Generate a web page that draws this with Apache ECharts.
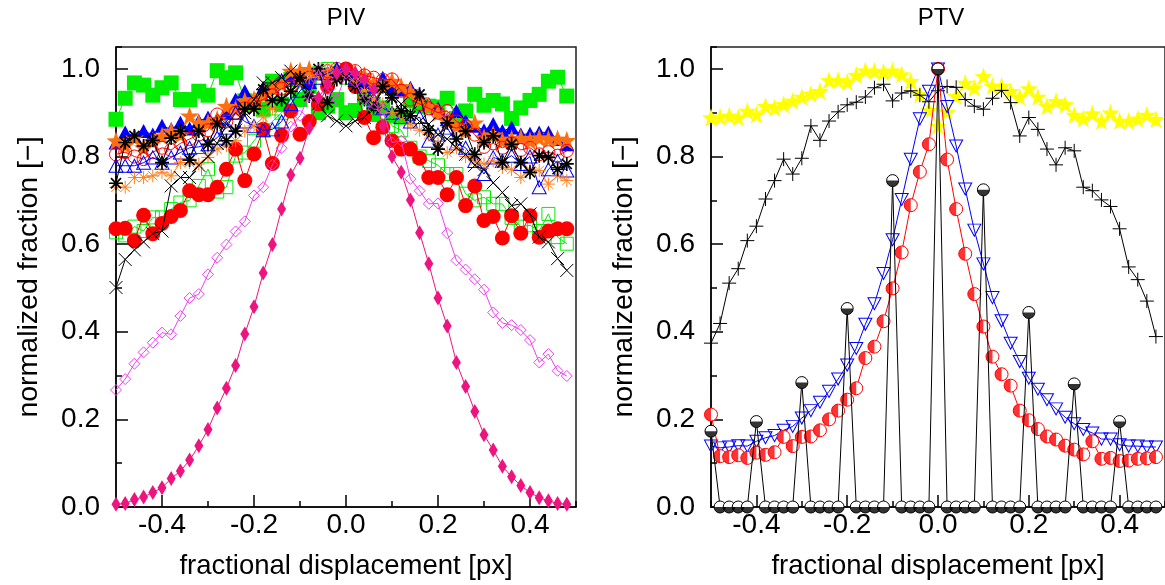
<!DOCTYPE html>
<html><head><meta charset="utf-8">
<script src="https://cdn.jsdelivr.net/npm/echarts@6/dist/echarts.min.js"></script>
<style>html,body{margin:0;padding:0;background:#fff}#c{width:1165px;height:585px}</style>
</head><body><div id="c"></div>
<script>
// ---------- data ----------
const xPos = [-0.50,-0.48,-0.46,-0.44,-0.42,-0.40,-0.38,-0.36,-0.34,-0.32,
  -0.30,-0.28,-0.26,-0.24,-0.22,-0.20,-0.18,-0.16,-0.14,-0.12,
  -0.10,-0.08,-0.06,-0.04,-0.02,0.00,0.02,0.04,0.06,0.08,
  0.10,0.12,0.14,0.16,0.18,0.20,0.22,0.24,0.26,0.28,
  0.30,0.32,0.34,0.36,0.38,0.40,0.42,0.44,0.46,0.48];
const xTickValues = [-0.4,-0.2,0,0.2,0.4];
const xTickLabels = ['-0.4','-0.2','0.0','0.2','0.4'];
const yTickValues = [0,0.2,0.4,0.6,0.8,1.0];
const yTickLabels = ['0.0','0.2','0.4','0.6','0.8','1.0'];
const panelTitles = ['PIV','PTV'];
const xAxisTitle = 'fractional displacement [px]';
const yAxisTitle = 'normalized fraction [\u2212]';

// PIV panel
const pivGreenFilled = [0.885,0.933,0.968,0.963,0.94,0.957,0.968,0.93,0.93,0.949,
  0.94,0.996,0.98,0.991,0.927,0.919,0.908,0.972,0.919,0.976,
  0.93,0.96,0.9,0.915,0.93,0.9,0.905,0.935,0.896,0.911,
  0.893,0.89,0.927,0.915,0.915,0.913,0.933,0.887,0.904,0.942,
  0.917,0.928,0.92,0.887,0.911,0.928,0.942,0.972,0.981,0.938];
const pivGreenOpen = [0.627,0.62,0.64,0.63,0.661,0.661,0.68,0.695,0.7,0.733,
  0.771,0.72,0.73,0.802,0.809,0.836,0.86,0.88,0.9,0.93,
  0.96,0.98,0.99,1.0,0.99,0.98,0.97,0.95,0.92,0.9,
  0.87,0.86,0.82,0.8,0.79,0.78,0.76,0.76,0.715,0.7,
  0.707,0.692,0.692,0.66,0.64,0.643,0.63,0.669,0.616,0.601];
const pivRedFilled = [0.635,0.636,0.608,0.666,0.624,0.647,0.663,0.677,0.722,0.713,
  0.713,0.73,0.771,0.817,0.745,0.806,0.862,0.784,0.848,0.904,
  0.851,0.88,0.92,0.96,0.99,1.0,0.96,0.889,0.843,0.867,
  0.836,0.817,0.817,0.796,0.752,0.752,0.713,0.752,0.688,0.733,
  0.654,0.663,0.614,0.665,0.625,0.665,0.616,0.63,0.635,0.635];
const pivBlueFilled = [0.832,0.855,0.847,0.858,0.85,0.87,0.862,0.877,0.864,0.881,
  0.889,0.885,0.9,0.93,0.949,0.93,0.957,0.96,0.975,0.98,
  0.985,0.97,0.99,0.99,1.0,1.0,0.99,0.97,0.96,0.98,
  0.955,0.953,0.957,0.94,0.92,0.91,0.885,0.904,0.881,0.87,
  0.86,0.874,0.858,0.866,0.85,0.852,0.855,0.855,0.84,0.828];
const pivOrangeStar = [0.836,0.826,0.843,0.82,0.835,0.847,0.858,0.85,0.893,0.877,
  0.877,0.885,0.915,0.908,0.927,0.93,0.94,0.957,0.965,0.995,
  0.995,0.999,0.99,0.985,0.99,0.99,0.99,0.985,0.968,0.96,
  0.972,0.96,0.949,0.93,0.915,0.9,0.881,0.87,0.86,0.877,
  0.843,0.85,0.836,0.84,0.842,0.836,0.843,0.84,0.84,0.837];
const pivRedOpen = [0.805,0.81,0.8,0.794,0.81,0.82,0.815,0.83,0.84,0.85,
  0.86,0.896,0.88,0.9,0.91,0.92,0.93,0.94,0.955,0.96,
  0.975,0.98,0.99,0.995,1.0,1.0,0.995,0.985,0.98,0.975,
  0.976,0.95,0.93,0.92,0.91,0.9,0.904,0.88,0.87,0.85,
  0.822,0.83,0.82,0.83,0.815,0.82,0.805,0.81,0.802,0.813];
const pivBlueOpen = [0.779,0.779,0.779,0.786,0.798,0.786,0.798,0.809,0.82,0.822,
  0.828,0.843,0.866,0.9,0.88,0.87,0.86,0.862,0.88,0.92,
  0.95,0.97,0.98,0.99,1.0,0.99,0.98,0.96,0.93,0.91,
  0.9,0.89,0.88,0.89,0.836,0.85,0.866,0.83,0.82,0.79,
  0.76,0.798,0.79,0.802,0.783,0.8,0.73,0.771,0.79,0.768];
const pivOrangeAst = [0.73,0.73,0.752,0.752,0.756,0.764,0.756,0.786,0.786,0.783,
  0.798,0.817,0.825,0.836,0.858,0.87,0.89,0.91,0.93,0.95,
  0.97,0.98,0.99,1.0,0.99,0.98,0.97,0.95,0.93,0.92,
  0.9,0.89,0.874,0.86,0.85,0.83,0.809,0.82,0.8,0.79,
  0.783,0.79,0.775,0.77,0.752,0.77,0.768,0.737,0.756,0.745];
const pivBlackAst = [0.739,0.832,0.847,0.824,0.837,0.786,0.842,0.858,0.792,0.858,
  0.828,0.875,0.836,0.858,0.908,0.908,0.953,0.928,0.93,0.949,
  0.98,0.938,1.0,0.923,0.976,0.98,0.96,0.93,0.91,0.96,
  0.934,0.904,0.893,0.942,0.86,0.817,0.877,0.84,0.858,0.805,
  0.832,0.847,0.786,0.828,0.786,0.764,0.802,0.798,0.771,0.783];
const pivBlackX = [0.501,0.565,0.587,0.605,0.624,0.63,0.733,0.752,0.752,0.78,
  0.8,0.83,0.874,0.86,0.9,0.93,0.968,0.968,0.98,0.995,
  0.968,0.95,0.92,0.893,0.881,0.87,0.881,0.889,0.92,0.95,
  0.94,0.92,0.9,0.88,0.874,0.85,0.84,0.82,0.805,0.78,
  0.77,0.74,0.718,0.688,0.692,0.669,0.616,0.605,0.567,0.54];
const pivMagenta = [0.267,0.292,0.327,0.353,0.375,0.398,0.394,0.436,0.477,0.486,
  0.531,0.569,0.599,0.629,0.652,0.711,0.73,0.781,0.819,0.868,
  0.893,0.938,0.999,0.953,0.93,0.99,0.97,0.93,0.908,0.908,
  0.832,0.836,0.749,0.722,0.692,0.693,0.625,0.563,0.542,0.52,
  0.496,0.444,0.42,0.415,0.404,0.381,0.33,0.349,0.311,0.299];
const pivPink = [0.006,0.008,0.017,0.023,0.033,0.044,0.065,0.082,0.107,0.14,
  0.177,0.226,0.271,0.323,0.395,0.457,0.534,0.599,0.68,0.758,
  0.796,0.865,0.934,0.965,0.99,1.0,0.99,0.975,0.953,0.87,
  0.8,0.764,0.701,0.626,0.555,0.477,0.413,0.33,0.275,0.218,
  0.165,0.13,0.093,0.069,0.049,0.033,0.021,0.014,0.008,0.006];

// PTV panel
const ptvYellow = [0.889,0.89,0.893,0.889,0.904,0.896,0.915,0.911,0.919,0.927,
  0.936,0.943,0.949,0.974,0.974,0.97,0.986,0.996,0.995,0.993,
  0.996,0.987,0.972,0.942,0.906,0.87,0.902,0.938,0.968,0.957,
  0.983,0.961,0.961,0.949,0.936,0.955,0.936,0.915,0.926,0.919,
  0.895,0.887,0.898,0.881,0.9,0.881,0.881,0.886,0.895,0.885];
const ptvPlus = [0.374,0.419,0.511,0.544,0.608,0.641,0.703,0.745,0.794,0.76,
  0.796,0.87,0.837,0.881,0.902,0.918,0.924,0.936,0.957,0.965,
  0.927,0.945,0.95,0.94,0.925,0.95,0.96,0.958,0.93,0.915,
  0.908,0.933,0.951,0.923,0.847,0.889,0.862,0.817,0.781,0.82,
  0.813,0.73,0.722,0.701,0.686,0.635,0.548,0.519,0.47,0.389];
const ptvBlueTri = [0.139,0.135,0.137,0.14,0.139,0.15,0.158,0.163,0.175,0.184,
  0.203,0.22,0.239,0.264,0.292,0.324,0.362,0.417,0.464,0.533,
  0.61,0.702,0.794,0.886,0.949,1.0,0.914,0.824,0.726,0.632,
  0.555,0.478,0.425,0.374,0.332,0.294,0.269,0.245,0.224,0.205,
  0.19,0.177,0.169,0.155,0.155,0.142,0.139,0.139,0.137,0.137];
const ptvRedHalf = [0.211,0.116,0.114,0.118,0.112,0.124,0.119,0.125,0.16,0.139,
  0.16,0.161,0.175,0.2,0.22,0.245,0.271,0.34,0.366,0.424,
  0.499,0.581,0.689,0.765,0.828,1.0,0.793,0.68,0.578,0.486,
  0.412,0.343,0.303,0.277,0.22,0.198,0.178,0.161,0.154,0.14,
  0.131,0.12,0.15,0.11,0.112,0.105,0.106,0.11,0.111,0.114];
const ptvBlackHalf = [0.173,0,0,0,0,0.195,0,0,0,0,
  0.284,0,0,0,0,0.453,0,0,0,0,
  0.745,0,0,0,0,1.0,0,0,0,0,
  0.724,0,0,0,0,0.444,0,0,0,0,
  0.281,0,0,0,0,0.195,0,0,0,0];

// ---------- symbols ----------
function starPath() {
  let s = 'path://';
  for (let i = 0; i < 10; i++) {
    const r = i % 2 === 0 ? 1 : 0.4;
    const a = -Math.PI / 2 + i * Math.PI / 5;
    s += (i === 0 ? 'M' : 'L') + (r * Math.cos(a)).toFixed(4) + ',' + (r * Math.sin(a)).toFixed(4) + ' ';
  }
  return s + 'Z';
}
const SYM = {
  star: starPath(),
  plus: 'path://M-1,0 L1,0 M0,-1 L0,1',
  cross: 'path://M-1,-1 L1,1 M-1,1 L1,-1',
  aster: 'path://M-1,0 L1,0 M0,-1 L0,1 M-0.72,-0.72 L0.72,0.72 M-0.72,0.72 L0.72,-0.72',
  square: 'path://M-1,-1 L1,-1 L1,1 L-1,1 Z',
  circle: 'path://M1,0 A1,1 0 1 1 -1,0 A1,1 0 1 1 1,0 Z',
  tri: 'path://M0,-1 L1,1 L-1,1 Z',
  triDown: 'path://M-1,-1 L1,-1 L0,1 Z',
  diamond: 'path://M0,-1 L1,0 L0,1 L-1,0 Z',
  halfBottom: 'path://M-1,0 A1,1 0 0 0 1,0 Z',
  halfLeft: 'path://M0,-1 A1,1 0 0 0 0,1 Z'
};

const FONT = 'Liberation Sans, Arial, Helvetica, sans-serif';
const FS_XNAME = 27.5;
const FS_YNAME = 28.5;
const FS_TICK = 28;

function pts(vals) { return xPos.map((x, i) => [x, vals[i]]); }

let zc = 3;
function line(g, vals, color, symbol, size, filled, lw, bw) {
  return {
    type: 'line', xAxisIndex: g * 2, yAxisIndex: g * 2, z: zc++,
    data: pts(vals), symbol: symbol, symbolSize: size, showAllSymbol: true,
    clip: false, animation: false,
    lineStyle: { color: color, width: lw || 1 },
    itemStyle: filled ? { color: color, borderWidth: 0 } :
      { color: 'none', borderColor: color, borderWidth: bw || 1 },
    emphasis: { disabled: true }
  };
}
function halfLayer(g, vals, color, symbol, size, offset) {
  return {
    type: 'scatter', xAxisIndex: g * 2, yAxisIndex: g * 2, z: zc++,
    data: pts(vals), symbol: symbol, symbolSize: size, symbolOffset: offset,
    clip: false, animation: false,
    itemStyle: { color: color, borderWidth: 0 }, emphasis: { disabled: true }
  };
}
function whiteCircle(g, vals, color, size) {
  const s = line(g, vals, color, SYM.circle, size, false);
  s.itemStyle = { color: '#ffffff', borderColor: color, borderWidth: 1 };
  return s;
}

const series = [
  line(0, pivGreenFilled, '#00ee00', SYM.square, 15, true),
  line(0, pivGreenOpen, '#00ee00', SYM.square, 13, false),
  line(0, pivRedFilled, '#ff0000', SYM.circle, 15, true),
  line(0, pivBlueFilled, '#0000ff', SYM.tri, [15, 14], true),
  line(0, pivOrangeStar, '#ff6f10', SYM.star, 19, true),
  line(0, pivRedOpen, '#ff0000', SYM.circle, 13, false),
  line(0, pivBlueOpen, '#0000ff', SYM.tri, [14, 13], false),
  line(0, pivOrangeAst, '#ff7f20', SYM.aster, 13, false),
  line(0, pivBlackAst, '#000000', SYM.aster, 14, false, 1, 1.7),
  line(0, pivBlackX, '#000000', SYM.cross, 13, false),
  line(0, pivMagenta, '#f040f0', SYM.diamond, 11, false),
  line(0, pivPink, '#ee1480', SYM.diamond, [9, 15], true),

  line(1, ptvYellow, '#ffff00', SYM.star, 18, true),
  line(1, ptvPlus, '#000000', SYM.plus, 14, false),
  line(1, ptvBlueTri, '#0000ff', SYM.triDown, [13, 12], false),
  whiteCircle(1, ptvRedHalf, '#ff0000', 13),
  halfLayer(1, ptvRedHalf, '#ff0000', SYM.halfLeft, [6.5, 13], [-3.25, 0]),
  whiteCircle(1, ptvBlackHalf, '#000000', 12),
  halfLayer(1, ptvBlackHalf, '#000000', SYM.halfBottom, [12, 6], [0, 3])
];

const gridDefs = [
  { left: 116, top: 47, width: 460, height: 461 },
  { left: 711, top: 47, width: 461, height: 461 }
];
const grids = gridDefs.map(d => Object.assign({ show: true, borderColor: '#222', borderWidth: 1.5, backgroundColor: 'transparent', containLabel: false }, d));

const xAxes = [], yAxes = [];
[0, 1].forEach(g => {
  xAxes.push({
    type: 'value', gridIndex: g, min: -0.5, max: 0.5, interval: 0.1,
    name: xAxisTitle, nameLocation: 'middle', nameGap: 45,
    nameTextStyle: { fontFamily: FONT, fontSize: FS_XNAME, color: '#000' },
    axisLine: { show: true, onZero: false, lineStyle: { color: '#000', width: 1.5 } },
    axisTick: { show: true, inside: true, length: 12, customValues: xTickValues, lineStyle: { color: '#000', width: 1.5 } },
    axisLabel: { show: true, customValues: xTickValues, margin: 4, fontFamily: FONT, fontSize: FS_TICK, color: '#000',
      formatter: v => xTickLabels[xTickValues.findIndex(t => Math.abs(t - v) < 1e-6)] },
    splitLine: { show: false }
  });
  xAxes.push({
    type: 'value', gridIndex: g, min: -0.5, max: 0.5, interval: 0.1, position: 'bottom',
    axisLine: { show: false, onZero: false }, axisLabel: { show: false }, splitLine: { show: false },
    axisTick: { show: true, inside: true, length: 6, lineStyle: { color: '#000', width: 1.5 } }
  });
  yAxes.push({
    type: 'value', gridIndex: g, min: 0, max: 1.05, interval: 0.1,
    name: yAxisTitle, nameLocation: 'middle', nameGap: 72, nameRotate: 90,
    nameTextStyle: { fontFamily: FONT, fontSize: FS_YNAME, color: '#000' },
    axisLine: { show: true, onZero: false, lineStyle: { color: '#000', width: 1.5 } },
    axisTick: { show: true, inside: true, length: 12, customValues: yTickValues, lineStyle: { color: '#000', width: 1.5 } },
    axisLabel: { show: true, customValues: yTickValues, margin: 16, fontFamily: FONT, fontSize: FS_TICK, color: '#000',
      formatter: v => yTickLabels[yTickValues.findIndex(t => Math.abs(t - v) < 1e-6)] },
    splitLine: { show: false }
  });
  yAxes.push({
    type: 'value', gridIndex: g, min: 0, max: 1.05, interval: 0.1, position: 'left',
    axisLine: { show: false, onZero: false }, axisLabel: { show: false }, splitLine: { show: false },
    axisTick: { show: true, inside: true, length: 6, lineStyle: { color: '#000', width: 1.5 } }
  });
});

const chart = echarts.init(document.getElementById('c'), null, { renderer: 'canvas' });
chart.setOption({
  animation: false,
  backgroundColor: '#ffffff',
  grid: grids,
  xAxis: xAxes,
  yAxis: yAxes,
  graphic: panelTitles.map((t, g) => ({
    type: 'text', x: gridDefs[g].left + 230, y: 18,
    style: { text: t, fontFamily: FONT, fontSize: 24, fill: '#000', align: 'center', verticalAlign: 'middle' }
  })),
  series: series
});
</script></body></html>
